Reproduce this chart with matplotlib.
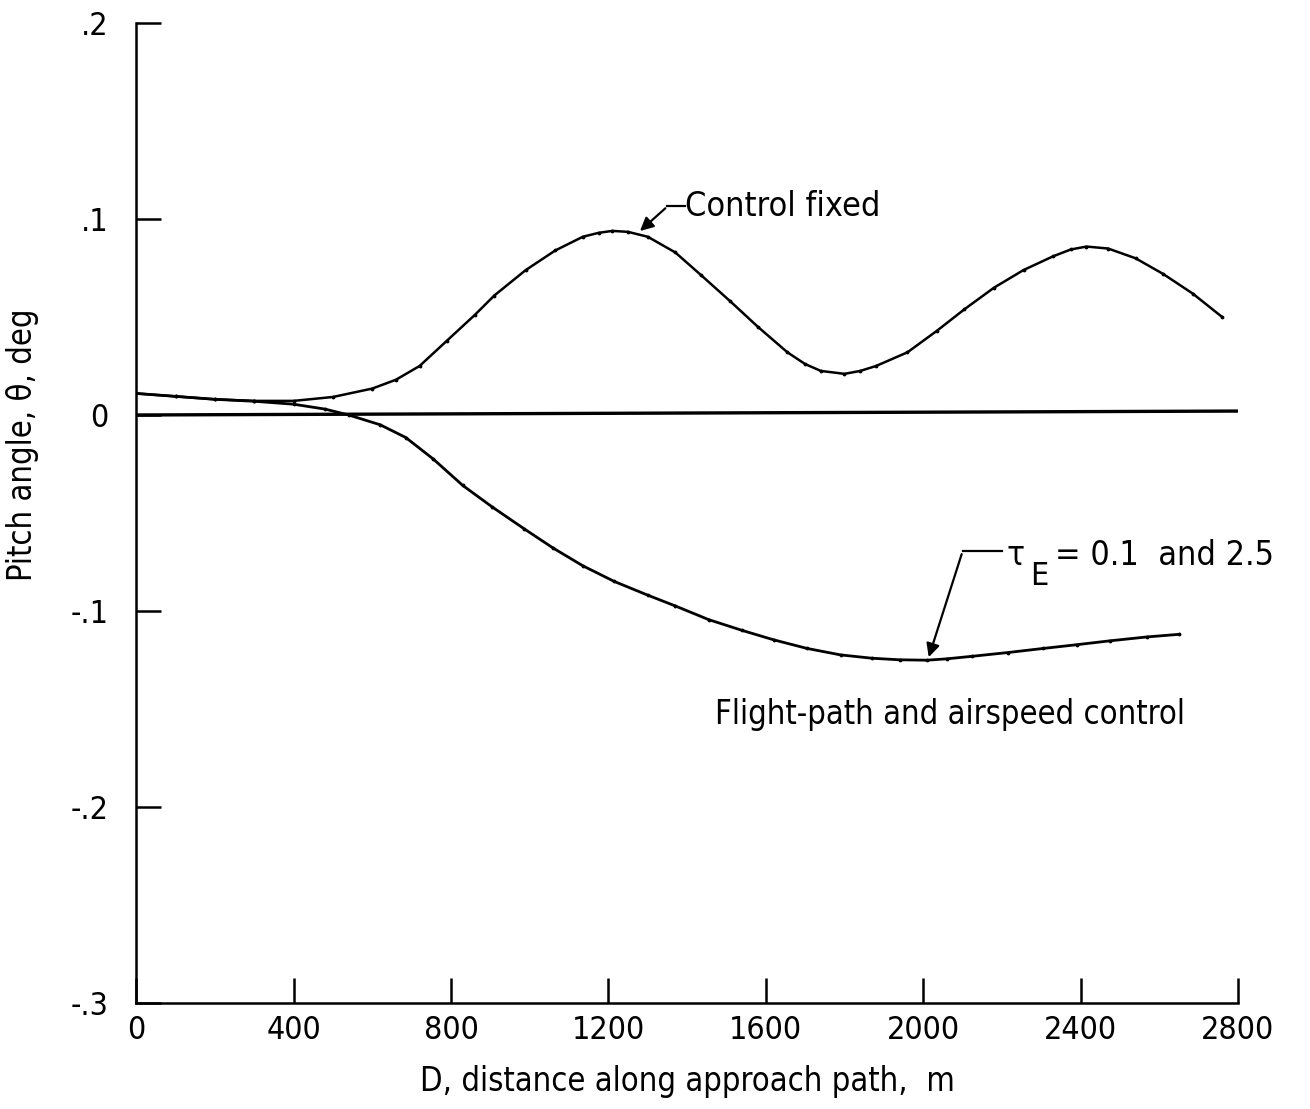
import matplotlib
matplotlib.use("Agg")
import matplotlib.pyplot as plt

plt.rcParams['font.family'] = ['DejaVu Sans']
plt.rcParams['font.stretch'] = 'condensed'

# control fixed curve (distance m, pitch angle deg)
ctrl_x = [0, 100, 200, 300, 400, 500, 600, 660, 720, 790, 860, 910, 990, 1065,
          1135, 1175, 1210, 1250, 1300, 1370, 1435, 1510, 1580, 1655, 1700, 1740,
          1800, 1840, 1880, 1960, 2035, 2105, 2180, 2255, 2330, 2375, 2415, 2470,
          2540, 2610, 2685, 2760]
ctrl_y = [0.011, 0.0095, 0.008, 0.0072, 0.0072, 0.0092, 0.0135, 0.018, 0.025, 0.038,
          0.051, 0.061, 0.074, 0.084, 0.091, 0.093, 0.094, 0.0935, 0.091, 0.083,
          0.0715, 0.058, 0.045, 0.032, 0.026, 0.0225, 0.021, 0.0225, 0.025, 0.032,
          0.043, 0.054, 0.065, 0.074, 0.081, 0.0845, 0.086, 0.085, 0.080, 0.072,
          0.062, 0.050]

# flight-path and airspeed control, tau_E = 0.1 and 2.5
fp_x = [0, 100, 200, 300, 400, 480, 540, 620, 685, 755, 830, 905, 985, 1060, 1135,
        1215, 1300, 1370, 1455, 1540, 1620, 1705, 1790, 1870, 1940, 2010, 2060,
        2125, 2215, 2305, 2390, 2475, 2570, 2650]
fp_y = [0.011, 0.0095, 0.008, 0.007, 0.0055, 0.003, 0.0, -0.005, -0.0115, -0.0225,
        -0.036, -0.047, -0.058, -0.068, -0.077, -0.085, -0.092, -0.0975, -0.1045,
        -0.110, -0.1148, -0.1192, -0.1225, -0.1242, -0.125, -0.1252, -0.1245,
        -0.1232, -0.1213, -0.1192, -0.1173, -0.1153, -0.1133, -0.112]

# reference (zero) line
zero_x = [0, 2800]
zero_y = [0.0, 0.002]

xticks = [0, 400, 800, 1200, 1600, 2000, 2400, 2800]
yticks = [0.2, 0.1, 0, -0.1, -0.2, -0.3]
ytick_labels = ['.2', '.1', '0', '-.1', '-.2', '-.3']

fig = plt.figure(figsize=(13.1, 11.09), dpi=100)
ax = fig.add_axes([0.104, 0.096, 0.841, 0.883])

ax.plot(zero_x, zero_y, color='black', lw=2.4)
ax.plot(ctrl_x, ctrl_y, color='black', lw=1.8, marker='.', ms=3.5,
        solid_joinstyle='round')
ax.plot(fp_x, fp_y, color='black', lw=2.0, marker='.', ms=3.5,
        solid_joinstyle='round')

ax.set_xlim(0, 2800)
ax.set_ylim(-0.3, 0.2)
ax.spines['top'].set_visible(False)
ax.spines['right'].set_visible(False)
for s in ['left', 'bottom']:
    ax.spines[s].set_linewidth(1.8)

ax.set_xticks(xticks)
ax.set_xticklabels([str(t) for t in xticks])
ax.set_yticks(yticks)
ax.set_yticklabels(ytick_labels)
ax.tick_params(direction='in', length=18, width=1.8, labelsize=23)
ax.tick_params(axis='x', pad=9)
ax.tick_params(axis='y', pad=20)

ax.set_xlabel('D, distance along approach path,  m', fontsize=23.5, labelpad=14)
ax.set_ylabel('Pitch angle, θ, deg', fontsize=23.5)
ax.yaxis.set_label_coords(-0.088, 0.57)

# annotations
ax.annotate('', xy=(1275, 0.093), xytext=(1350, 0.1065),
            arrowprops=dict(arrowstyle='-|>', color='black', lw=1.6, mutation_scale=20))
ax.plot([1350, 1395], [0.1065, 0.1065], color='black', lw=1.6)
ax.text(1395, 0.1067, 'Control fixed', fontsize=24.5, va='center', ha='left')

ax.annotate('', xy=(2012, -0.125), xytext=(2100, -0.0697),
            arrowprops=dict(arrowstyle='-|>', color='black', lw=1.6, mutation_scale=20))
ax.plot([2100, 2200], [-0.0697, -0.0697], color='black', lw=1.6)
ax.text(2213, -0.0715, 'τ', fontsize=24, va='center', ha='left')
ax.text(2272, -0.0825, 'E', fontsize=23, va='center', ha='left')
ax.text(2335, -0.0715, '= 0.1  and 2.5', fontsize=24.5, va='center', ha='left')

ax.text(1471, -0.153, 'Flight-path and airspeed control', fontsize=23.5, va='center', ha='left')

fig.savefig('out.png', dpi=100)
